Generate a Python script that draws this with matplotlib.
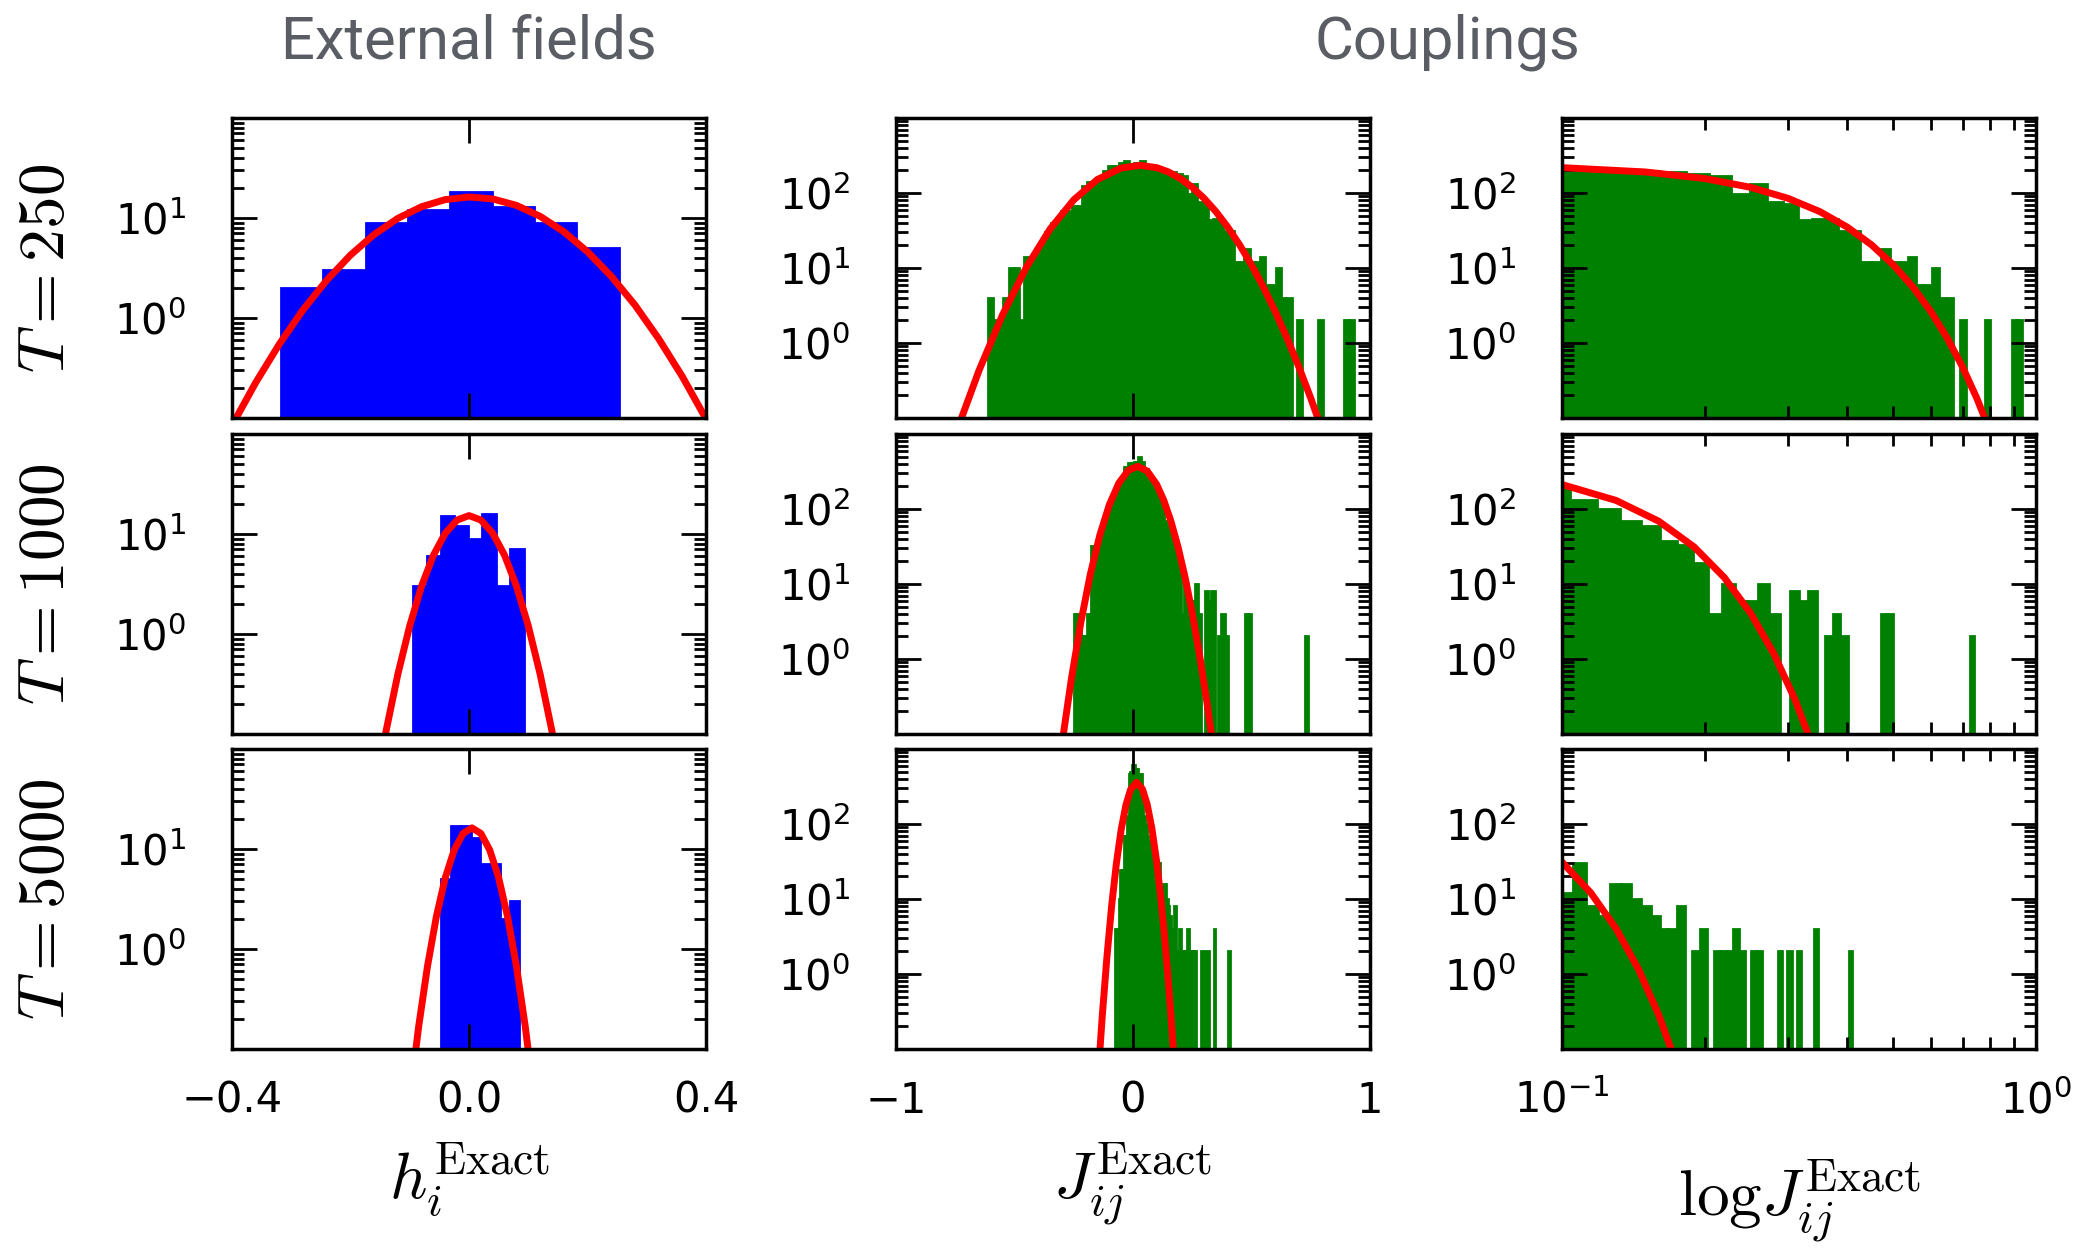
# Histograms of exact fields and couplings for three sample sizes, with gaussian fits

import numpy as np
import matplotlib
matplotlib.use("Agg")
import matplotlib.pyplot as plt
from matplotlib.ticker import NullFormatter

plt.rcParams['font.family'] = ['DejaVu Sans']
plt.rcParams['mathtext.fontset'] = 'cm'

# ---------------------------------------------------------------- data
row_labels = ['$T=250$', '$T=1000$', '$T=5000$']
col_titles = ['External fields', 'Couplings']
x_labels = [r'$h_i^{\rm Exact}$', r'$J_{ij}^{\rm Exact}$', r'$\mathrm{log}J_{ij}^{\rm Exact}$']

# external fields: first bin edge, bin width and counts for each T
h_start = [-0.317, -0.0946, -0.0466]
h_width = [0.0712, 0.02335, 0.01644]
h_counts = [
    [2, 3, 9, 12, 18, 13, 9, 5],
    [3, 6, 15, 12, 9, 16, 3, 7],
    [5, 17, 17, 13, 7, 7, 2, 3],
]

# gaussian fit of the fields
h_fit_x = [
    [-0.44, -0.40, -0.36, -0.32, -0.28, -0.24, -0.20, -0.16, -0.12, -0.08, -0.04, 0.00,
     0.04, 0.08, 0.12, 0.16, 0.20, 0.24, 0.28, 0.32, 0.36, 0.40, 0.44],
    [-0.16, -0.14, -0.12, -0.10, -0.08, -0.06, -0.04, -0.02, 0.00,
     0.02, 0.04, 0.06, 0.08, 0.10, 0.12, 0.14, 0.16],
    [-0.100, -0.085, -0.070, -0.055, -0.040, -0.025, -0.010, 0.005,
     0.020, 0.035, 0.050, 0.065, 0.080, 0.095, 0.110],
]
h_fit_y = [
    [0.028, 0.084, 0.226, 0.55, 1.21, 2.39, 4.26, 6.85, 9.93, 12.97, 15.28, 16.21,
     15.51, 13.38, 10.40, 7.29, 4.60, 2.62, 1.35, 0.622, 0.260, 0.098, 0.033],
    [0.023, 0.107, 0.398, 1.21, 3.02, 6.14, 10.19, 13.80, 15.28,
     13.80, 10.19, 6.14, 3.02, 1.21, 0.398, 0.107, 0.023],
    [0.032, 0.167, 0.676, 2.12, 5.17, 9.77, 14.32, 16.26,
     14.32, 9.77, 5.17, 2.12, 0.676, 0.167, 0.032],
]

# couplings: first bin edge, bin width and counts (70 bins) for each T
J_start = [-0.613, -0.2491, -0.0739]
J_width = [0.0221, 0.01413, 0.0069]
J_counts = [
    [4, 2, 2, 4, 10, 10, 2, 14, 14, 18, 22, 30, 40, 40, 57, 57, 68, 68, 125, 139,
     139, 160, 194, 227, 227, 251, 265, 240, 250, 265, 235, 220, 205, 200, 195, 190, 181, 170, 98, 133,
     75, 72, 44, 45, 45, 31, 31, 12, 12, 18, 12, 12, 14, 6, 6, 10, 4, 4, 0, 2,
     0, 0, 0, 2, 0, 0, 0, 0, 2, 2],
    [4, 4, 2, 2, 4, 32, 32, 36, 50, 72, 100, 130, 170, 215, 260, 364, 410, 410, 420, 494,
     424, 340, 270, 230, 185, 133, 100, 70, 59, 38, 33, 19, 4, 10, 6, 6, 10, 4, 0, 8,
     6, 8, 0, 2, 4, 2, 0, 0, 0, 0, 0, 4, 4, 0, 0, 0, 0, 0, 0, 0,
     0, 0, 0, 0, 0, 0, 0, 0, 0, 2],
    [4, 4, 10, 24, 24, 70, 70, 129, 464, 500, 612, 612, 541, 541, 464, 464, 293, 129, 100, 70,
     60, 50, 40, 35, 31, 12, 30, 8, 6, 16, 16, 10, 8, 6, 4, 4, 8, 0, 2, 4,
     0, 2, 2, 2, 4, 2, 0, 2, 2, 0, 0, 0, 2, 0, 2, 0, 2, 0, 0, 0,
     4, 0, 0, 0, 0, 0, 0, 0, 0, 2],
]

# gaussian fit of the couplings
J_fit_x = [
    [-0.73, -0.65, -0.55, -0.45, -0.35, -0.25, -0.15, -0.05, 0.03, 0.10, 0.15, 0.20,
     0.25, 0.30, 0.35, 0.40, 0.45, 0.50, 0.55, 0.60, 0.65, 0.70, 0.75, 0.79],
    [-0.30, -0.26, -0.22, -0.18, -0.14, -0.10, -0.06, -0.02, 0.02, 0.06,
     0.10, 0.13, 0.16, 0.19, 0.22, 0.25, 0.28, 0.31, 0.34],
    [-0.15, -0.13, -0.11, -0.09, -0.07, -0.05, -0.03, -0.01, 0.015,
     0.04, 0.06, 0.08, 0.10, 0.115, 0.13, 0.145, 0.16, 0.175],
]
J_fit_y = [
    [0.088, 0.428, 2.39, 10.2, 33.0, 81.0, 151.5, 215.2, 233.9, 217.8, 190.7, 155.9,
     119.0, 84.8, 56.4, 35.0, 20.3, 11.0, 5.57, 2.63, 1.16, 0.478, 0.184, 0.081],
    [0.073, 0.542, 3.09, 13.5, 44.8, 113.7, 220.8, 327.2, 370.7, 320.6,
     212.0, 130.2, 68.7, 31.2, 12.2, 4.08, 1.17, 0.29, 0.062],
    [0.032, 0.267, 1.69, 8.18, 30.0, 84.0, 178.6, 289.0, 359.7,
     292.2, 181.9, 86.2, 31.1, 12.1, 4.04, 1.16, 0.284, 0.060],
]

# ---------------------------------------------------------------- layout (pixels)
W, H = 2078, 1253
col_left = [232, 896, 1562]
row_top = [118, 434, 749]
ax_w, ax_h = 474, 300

fig = plt.figure(figsize=(W / 100, H / 100), dpi=100)
fig.patch.set_facecolor('white')


def draw_hist(ax, start, width, counts, color):
    counts = np.asarray(counts, dtype=float)
    left = start + width * np.arange(len(counts))
    keep = counts > 0
    ax.bar(left[keep], counts[keep], width=width, align='edge',
           color=color, edgecolor=color, linewidth=2)


for r in range(3):
    for c in range(3):
        ax = fig.add_axes([col_left[c] / W, (H - row_top[r] - ax_h) / H, ax_w / W, ax_h / H])
        if c == 0:
            draw_hist(ax, h_start[r], h_width[r], h_counts[r], 'blue')
            ax.plot(h_fit_x[r], h_fit_y[r], color='red', lw=5)
            ax.set_xlim(-0.4, 0.4)
            ax.set_xticks([-0.4, 0.0, 0.4])
            ax.set_yscale('log')
            ax.set_ylim(0.1, 100)
            ax.set_yticks([1, 10])
        else:
            draw_hist(ax, J_start[r], J_width[r], J_counts[r], 'green')
            ax.plot(J_fit_x[r], J_fit_y[r], color='red', lw=5)
            ax.set_yscale('log')
            ax.set_ylim(0.1, 1000)
            ax.set_yticks([1, 10, 100])
            if c == 1:
                ax.set_xlim(-1, 1)
                ax.set_xticks([-1, 0, 1])
            else:
                ax.set_xscale('log')
                ax.set_xlim(0.1, 1)
                ax.xaxis.set_minor_formatter(NullFormatter())
        ax.yaxis.set_minor_formatter(NullFormatter())

        for s in ax.spines.values():
            s.set_linewidth(2.5)
        ax.tick_params(which='both', direction='in', top=True, right=True, width=2)
        ax.tick_params(which='major', length=18, labelsize=30)
        ax.tick_params(which='minor', length=8.5)
        ax.tick_params(axis='x', pad=22)
        ax.tick_params(axis='y', pad=33)
        ax.tick_params(labelbottom=(r == 2))

        if r == 2:
            ax.set_xlabel(x_labels[c], fontsize=47, labelpad=(26 if c == 2 else 14))

    fig.text(46 / W, 1 - (row_top[r] + ax_h / 2) / H, row_labels[r], rotation=90,
             ha='center', va='center', fontsize=47)

fig.text(469 / W, 1 - 42 / H, col_titles[0], ha='center', va='center', fontsize=43,
         color='#5a5e64', family=['Roboto', 'DejaVu Sans'], weight='normal')
fig.text(1447 / W, 1 - 42 / H, col_titles[1], ha='center', va='center', fontsize=43,
         color='#5a5e64', family=['Roboto', 'DejaVu Sans'], weight='normal')

fig.savefig('out.png', dpi=100, facecolor='white')
